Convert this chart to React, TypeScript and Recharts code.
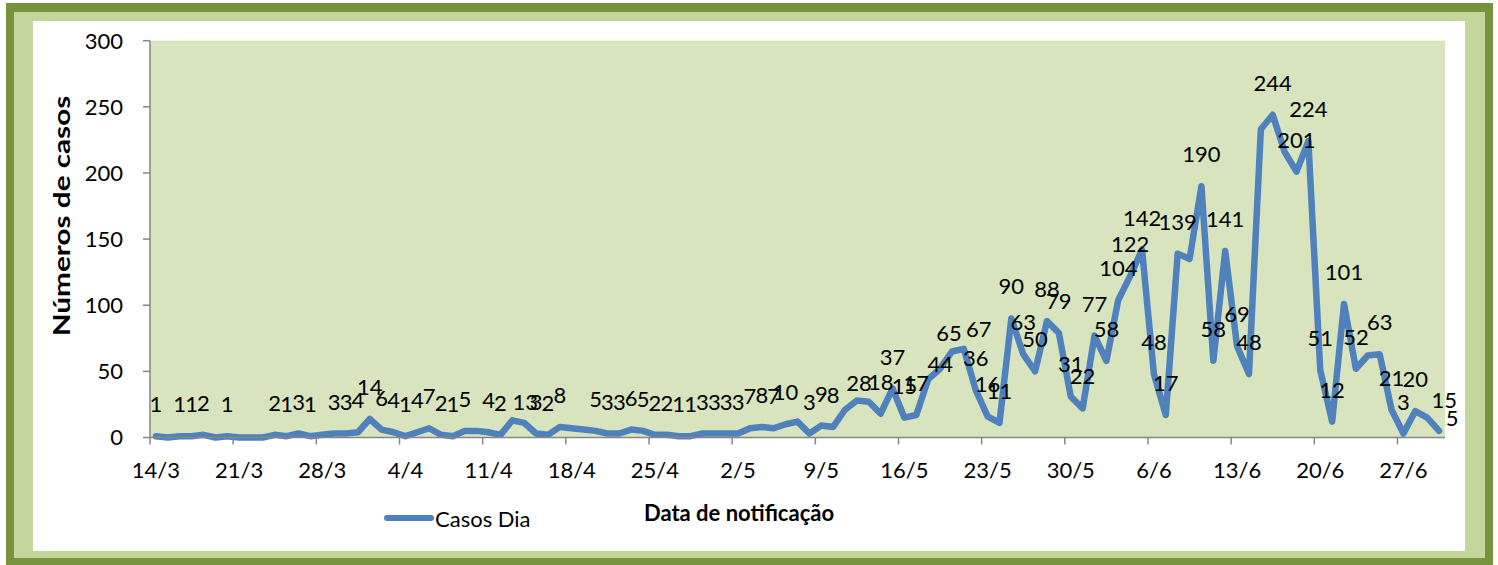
import React from 'react';
import { LineChart, Line, XAxis, YAxis, CartesianGrid, LabelList, Label } from 'recharts';

// Categorias: datas de notificação (14/3 a 30/6)
const dias = [
  '14/3', '15/3', '16/3', '17/3', '18/3', '19/3', '20/3', '21/3', '22/3', '23/3', '24/3', '25/3', '26/3', '27/3', '28/3', '29/3', '30/3', '31/3',
  '1/4', '2/4', '3/4', '4/4', '5/4', '6/4', '7/4', '8/4', '9/4', '10/4', '11/4', '12/4', '13/4', '14/4', '15/4', '16/4', '17/4', '18/4', '19/4', '20/4',
  '21/4', '22/4', '23/4', '24/4', '25/4', '26/4', '27/4', '28/4', '29/4', '30/4',
  '1/5', '2/5', '3/5', '4/5', '5/5', '6/5', '7/5', '8/5', '9/5', '10/5', '11/5', '12/5', '13/5', '14/5', '15/5', '16/5', '17/5', '18/5', '19/5', '20/5',
  '21/5', '22/5', '23/5', '24/5', '25/5', '26/5', '27/5', '28/5', '29/5', '30/5', '31/5',
  '1/6', '2/6', '3/6', '4/6', '5/6', '6/6', '7/6', '8/6', '9/6', '10/6', '11/6', '12/6', '13/6', '14/6', '15/6', '16/6', '17/6', '18/6', '19/6', '20/6',
  '21/6', '22/6', '23/6', '24/6', '25/6', '26/6', '27/6', '28/6', '29/6', '30/6',
];

// Série: Casos Dia
const casosDia = [
  1, 0, 1, 1, 2, 0, 1, 0, 0, 0,
  2, 1, 3, 1, 2, 3, 3, 4, 14, 6,
  4, 1, 4, 7, 2, 1, 5, 5, 4, 2,
  13, 11, 3, 2, 8, 7, 6, 5, 3, 3,
  6, 5, 2, 2, 1, 1, 3, 3, 3, 3,
  7, 8, 7, 10, 12, 3, 9, 8, 21, 28,
  27, 18, 37, 15, 17, 44, 52, 65, 67, 36,
  16, 11, 90, 63, 50, 88, 79, 31, 22, 77,
  58, 104, 122, 142, 48, 17, 139, 135, 190, 58,
  141, 69, 48, 233, 244, 216, 201, 224, 51, 12,
  101, 52, 62, 63, 21, 3, 20, 15, 5,
];

// Pontos sem rótulo de dados visível
const semRotulo = [14, 27, 31, 35, 36, 54, 58, 60, 66, 87, 93, 95, 102];

// Rótulos do eixo X (um a cada 7 dias)
const rotulosEixoX = ['14/3', '21/3', '28/3', '4/4', '11/4', '18/4', '25/4', '2/5', '9/5', '16/5', '23/5', '30/5', '6/6', '13/6', '20/6', '27/6'];

// Ticks do eixo Y
const ticksY = [0, 50, 100, 150, 200, 250, 300];

// Deslocamentos manuais de alguns rótulos (dx, dy em px), como no original
const ajusteRotulo: Record<number, [number, number]> = {
  30: [13, 14],
  59: [2, 15],
  65: [12, 17],
  67: [-3, 13],
  68: [15, 12],
  107: [17, 14],
  108: [13, 19],
};

const dados = casosDia.map((v, i) => ({
  dia: i,
  data: dias[i],
  casos: v,
  rotulo: v > 0 && !semRotulo.includes(i) ? v : null,
}));

const W = 1498;
const H = 565;
const MARGIN = { top: 40.7, right: 53, bottom: 67.5, left: 0 };
const Y_AXIS_W = 150;
const X_AXIS_H = 60;
const PLOT_W = W - MARGIN.left - MARGIN.right - Y_AXIS_W;
const BAND = PLOT_W / dias.length;

const FONT = 'Lato, "Open Sans", sans-serif';
const GREY = '#868686';
const LINE_COLOR = '#4F81BD';

const ticksX = rotulosEixoX.map((_, k) => k * 7 - 0.5);

const XTick = (props: any) => {
  const { x, y, index } = props;
  return (
    <text x={x + BAND / 2} y={y + 31} textAnchor="middle" fontSize={22} fontFamily={FONT} fill="#000">
      {rotulosEixoX[index]}
    </text>
  );
};

const renderRotulo = (props: any) => {
  const { x, y, value } = props;
  if (value === null || value === undefined || value === '') return null;
  const idx = typeof props.index === 'number' ? props.index : Math.round((x - MARGIN.left - Y_AXIS_W) / BAND - 0.5);
  const [dx, dy] = ajusteRotulo[idx] || [0, 0];
  return (
    <text x={x + dx} y={y - 24 + dy} textAnchor="middle" fontSize={22} fontFamily={FONT} fill="#000">
      {value}
    </text>
  );
};

export default function App() {
  return (
    <div style={{ position: 'absolute', left: 0, top: 0, width: W, height: H, background: '#fff', overflow: 'hidden' }}>
      <div style={{ position: 'absolute', left: 6, top: 3, width: 1487, height: 562, background: '#77933C' }} />
      <div style={{ position: 'absolute', left: 14, top: 12, width: 1471, height: 546, background: '#C3D69B' }} />
      <div style={{ position: 'absolute', left: 33, top: 21, width: 1432, height: 530, background: '#FFFFFF' }} />
      <div style={{ position: 'absolute', left: 0, top: 0 }}>
        <LineChart width={W} height={H} data={dados} margin={MARGIN}>
          <CartesianGrid fill="#D7E4BD" horizontal={false} vertical={false} stroke="none" />
          <XAxis
            dataKey="dia"
            type="number"
            domain={[-0.5, dias.length - 0.5]}
            ticks={ticksX}
            interval={0}
            height={X_AXIS_H}
            tickSize={7}
            axisLine={{ stroke: GREY, strokeWidth: 1.5 }}
            tickLine={{ stroke: GREY, strokeWidth: 1.5 }}
            tick={<XTick />}
            allowDecimals
          >
            <Label
              content={() => (
                <text x={739} y={521} textAnchor="middle" fontSize={22} fontWeight="bold" fontFamily={FONT} fill="#000">
                  Data de notificação
                </text>
              )}
            />
          </XAxis>
          <YAxis
            width={Y_AXIS_W}
            domain={[0, 300]}
            ticks={ticksY}
            interval={0}
            tickSize={7}
            tickMargin={20}
            axisLine={{ stroke: GREY, strokeWidth: 1.5 }}
            tickLine={{ stroke: GREY, strokeWidth: 1.5 }}
            tick={{ fill: '#000', fontSize: 22, fontFamily: FONT }}
          >
            <Label
              content={() => (
                <text
                  transform="translate(70,216) rotate(-90) scale(1.35,1)"
                  textAnchor="middle"
                  fontSize={22}
                  fontWeight="bold"
                  fontFamily={FONT}
                  fill="#000"
                >
                  Números de casos
                </text>
              )}
            />
          </YAxis>
          <Line
            type="linear"
            dataKey="casos"
            name="Casos Dia"
            stroke={LINE_COLOR}
            strokeWidth={6.5}
            strokeLinejoin="round"
            strokeLinecap="round"
            dot={false}
            activeDot={false}
            isAnimationActive={false}
          >
            <LabelList dataKey="rotulo" content={renderRotulo} />
          </Line>
        </LineChart>
      </div>
      <div style={{ position: 'absolute', left: 383, top: 503, display: 'flex', alignItems: 'center', fontFamily: FONT, fontSize: 22, color: '#000' }}>
        <svg width={52} height={30} style={{ display: 'block' }}>
          <line x1={4} y1={15} x2={48} y2={15} stroke={LINE_COLOR} strokeWidth={6} strokeLinecap="round" />
        </svg>
        <span>Casos Dia</span>
      </div>
    </div>
  );
}
